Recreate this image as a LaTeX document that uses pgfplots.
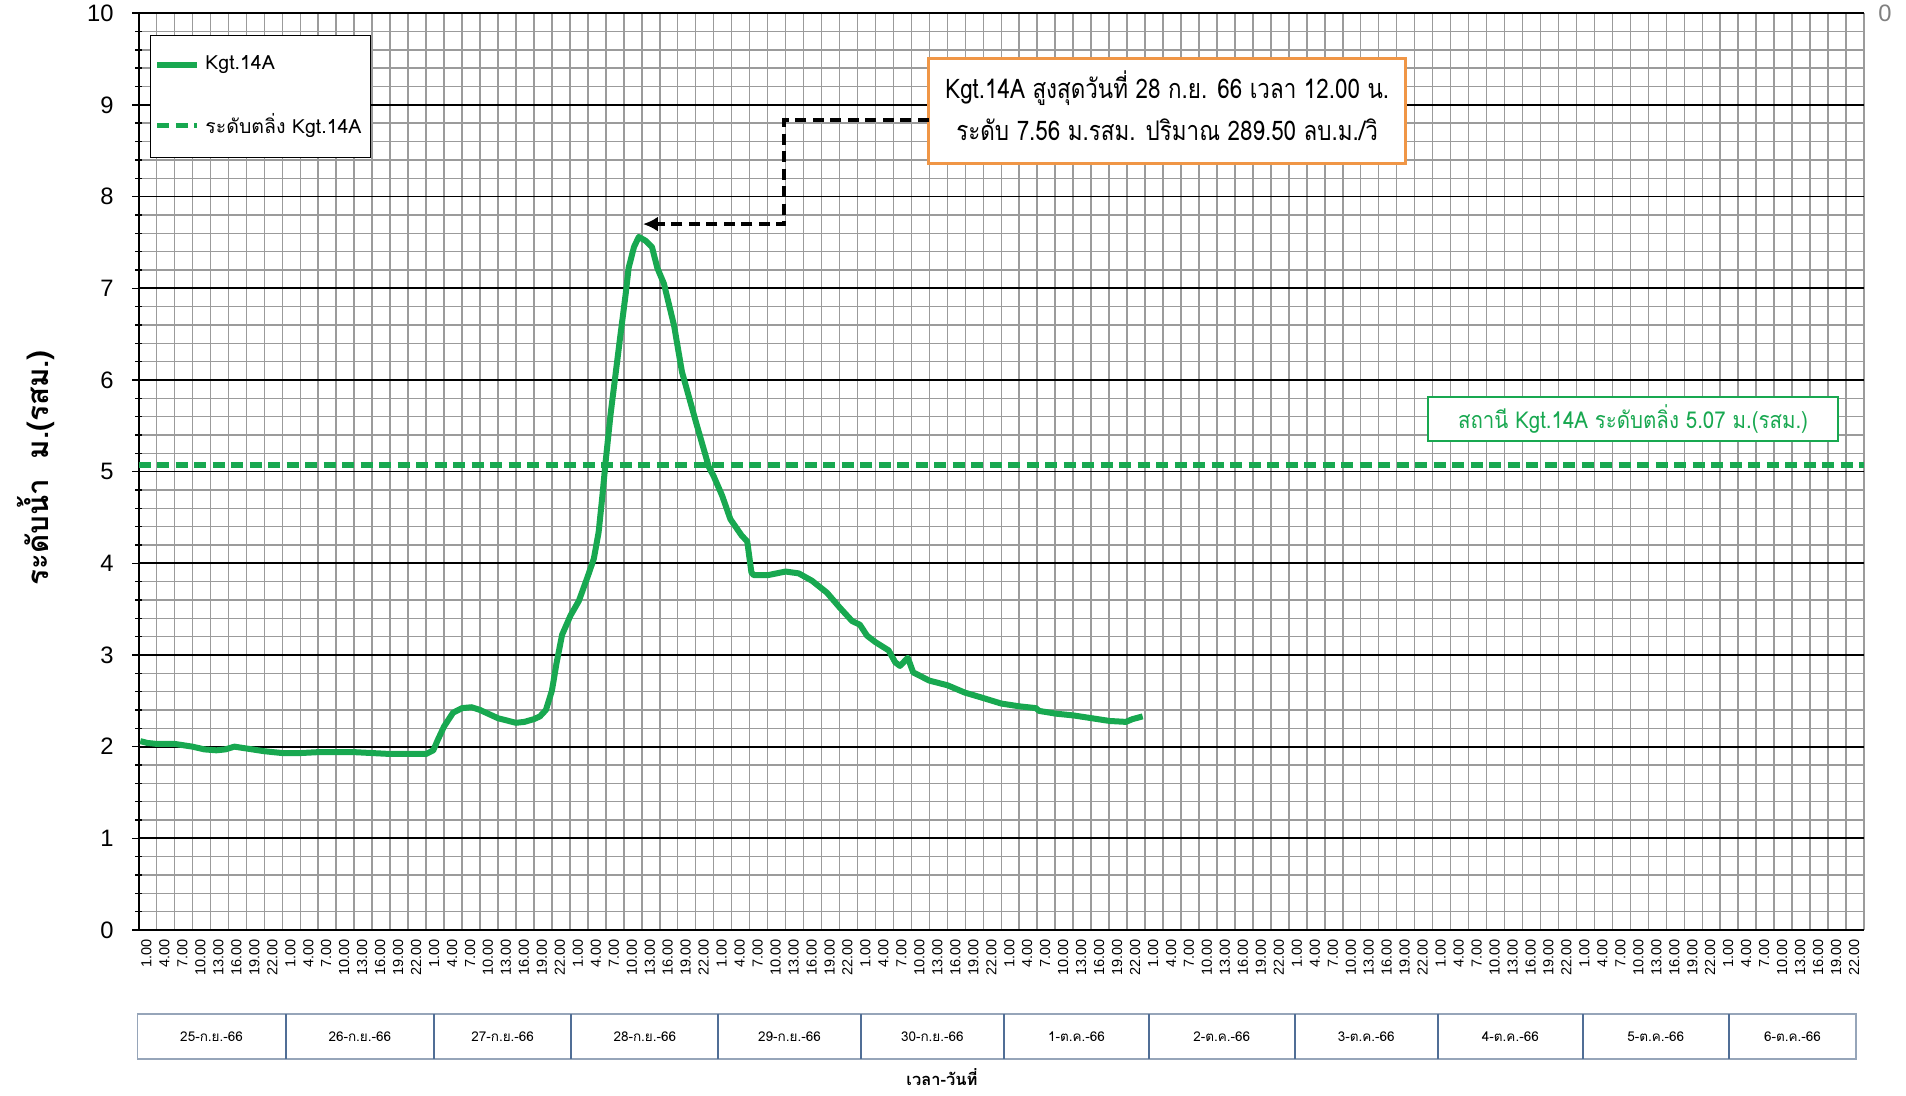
\documentclass[border=0pt]{standalone}
\usepackage{fontspec}
\setmainfont{Liberation Sans}
\newfontfamily\thai[Script=Thai]{Loma}
\usepackage{pgfplots}
\pgfplotsset{compat=1.18}
\usetikzlibrary{arrows.meta}
\definecolor{lgreen}{RGB}{24,168,80}
\definecolor{gridgray}{RGB}{155,155,155}
\definecolor{boxorange}{RGB}{240,150,70}
\definecolor{datebox}{RGB}{150,165,185}
\definecolor{datediv}{RGB}{80,110,150}
\begin{document}
\begin{tikzpicture}
\useasboundingbox (0,0) rectangle (762.4pt,438.4pt);
\begin{axis}[
  at={(55.4pt,66.4pt)}, anchor=south west,
  scale only axis, width=690.2pt, height=366.7pt,
  xmin=0, xmax=288, ymin=0, ymax=10,
  axis lines=left, axis line style={-, black, line width=0.8pt},
  ytick={0,1,...,10}, minor y tick num=4,
  ymajorgrids, yminorgrids,
  major grid style={black, line width=0.7pt},
  minor grid style={gridgray, line width=0.6pt},
  xtick={0.5,3.5,...,287.5},
  xticklabels={1.00,4.00,7.00,10.00,13.00,16.00,19.00,22.00,1.00,4.00,7.00,10.00,13.00,16.00,19.00,22.00,1.00,4.00,7.00,10.00,13.00,16.00,19.00,22.00,1.00,4.00,7.00,10.00,13.00,16.00,19.00,22.00,1.00,4.00,7.00,10.00,13.00,16.00,19.00,22.00,1.00,4.00,7.00,10.00,13.00,16.00,19.00,22.00,1.00,4.00,7.00,10.00,13.00,16.00,19.00,22.00,1.00,4.00,7.00,10.00,13.00,16.00,19.00,22.00,1.00,4.00,7.00,10.00,13.00,16.00,19.00,22.00,1.00,4.00,7.00,10.00,13.00,16.00,19.00,22.00,1.00,4.00,7.00,10.00,13.00,16.00,19.00,22.00,1.00,4.00,7.00,10.00,13.00,16.00,19.00,22.00},
  minor xtick={0,3,...,288}, xminorgrids,
  x tick style={draw=none},
  y tick style={black, line width=0.6pt},
  tick align=center, major tick length=4.8pt, minor tick length=2.8pt,
  xticklabel style={rotate=90, anchor=east, font=\fontsize{5.8}{6}\selectfont, inner sep=1pt, yshift=-2pt},
  yticklabel style={font=\fontsize{9.5}{10}\selectfont, xshift=-4pt},
  /pgf/number format/assume math mode=true,
  legend style={at={(0.0067,0.976)}, anchor=north west, draw=black, line width=0.5pt,
    font=\thai\fontsize{7.8}{9}\selectfont, inner xsep=1.5pt, inner ysep=6pt, row sep=12pt,
    cells={anchor=west}, /tikz/every even column/.append style={column sep=0pt}},
  legend image code/.code={\draw[#1] (0pt,0pt) -- (16pt,0pt);},
]
\addplot[lgreen, line width=2.4pt, line join=round] coordinates {
(0.3,2.06) (1.5,2.04) (3,2.03) (6,2.03) (9,2.00) (11,1.97) (13,1.96) (14.5,1.97) (16,2.00) (18,1.98)
(21,1.95) (24,1.93) (27,1.93) (30,1.94) (33,1.94) (36,1.94) (39,1.93) (42,1.92) (45,1.92) (48,1.92)
(49.2,1.96) (50,2.08) (51,2.22) (52.5,2.37) (54,2.42) (55.6,2.43) (57,2.40) (60,2.31) (63,2.26) (64.4,2.27)
(66,2.30) (67,2.33) (68,2.40) (69,2.61) (69.8,2.92) (70.7,3.22) (72.1,3.43) (73.5,3.59) (75,3.86) (76,4.05)
(76.8,4.34) (77.4,4.72) (78,5.13) (78.8,5.63) (79.6,6.05) (80.4,6.47) (81.3,6.93) (81.8,7.22) (82.7,7.45) (83.5,7.56)
(84.6,7.52) (85.7,7.45) (86.6,7.22) (87.7,7.05) (89.4,6.59) (90.7,6.09) (93,5.55) (95.2,5.05) (96,4.95) (97.4,4.74)
(98.8,4.48) (100.7,4.30) (101.6,4.24) (102.3,3.90) (102.7,3.87) (105,3.87) (108,3.91) (110.2,3.89) (112.4,3.81) (114.9,3.68)
(117,3.52) (119.1,3.37) (120.4,3.33) (121.6,3.21) (123,3.14) (125.2,3.05) (126.3,2.92) (127.1,2.88) (128.4,2.97) (129.3,2.81)
(132,2.72) (135,2.67) (137.9,2.59) (141,2.53) (144,2.47) (147,2.44) (149.8,2.42) (150.3,2.39) (153.1,2.36) (156.1,2.34)
(159.1,2.31) (162.1,2.28) (164.8,2.27) (165.9,2.30) (167.6,2.33)
};
\addlegendentry{Kgt.14A}
\addplot[lgreen, line width=2.2pt, dash pattern=on 4.8pt off 2.6pt] coordinates {(0,5.07) (288,5.07)};
\addlegendentry{ระดับตลิ่ง Kgt.14A}
\draw[boxorange, line width=1.3pt, fill=white] (axis cs:131.9,8.36) rectangle (axis cs:211.5,9.51);
\node[inner sep=0pt] at (axis cs:171.7,8.935)
  {\scalebox{0.83}[1]{\thai\fontsize{10.8}{17}\selectfont\begin{tabular}{@{}c@{}}Kgt.14A สูงสุดวันที่ 28 ก.ย. 66 เวลา 12.00 น.\\ระดับ 7.56 ม.รสม. ปริมาณ 289.50 ลบ.ม./วิ\end{tabular}}};
\draw[black, line width=1.6pt, dash pattern=on 4.4pt off 2.6pt, -{Latex[length=6pt,width=6pt]}]
  (axis cs:131.9,8.83) -- (axis cs:107.8,8.83) -- (axis cs:107.8,7.70) -- (axis cs:84.2,7.70);
\draw[lgreen, line width=0.8pt, fill=white] (axis cs:215.2,5.33) rectangle (axis cs:283.7,5.81);
\node[inner sep=0pt, text=lgreen] at (axis cs:249.45,5.57)
  {\scalebox{0.88}[1]{\thai\fontsize{9.3}{11}\selectfont สถานี Kgt.14A ระดับตลิ่ง 5.07 ม.(รสม.)}};
\end{axis}
\node[rotate=90, font=\thai\bfseries\fontsize{11.8}{13}\selectfont] at (14.4pt,251.2pt) {ระดับน้ำ\ \ ม.(รสม.)};
\node[font=\fontsize{9.5}{10}\selectfont, gray] at (754pt,433.2pt) {0};
\draw[datebox, line width=0.6pt] (54.96pt,14.7pt) rectangle (742.48pt,32.7pt);
\foreach \x in {114.28,173.6,228.52,287.36,344.24,401.64,459.48,517.84,575.2,633.08,691.44}
  \draw[datediv, line width=0.8pt] (\x pt,14.7pt) -- (\x pt,32.7pt);
\foreach \a/\b/\t in {54.96/114.28/25-ก.ย.-66, 114.28/173.6/26-ก.ย.-66, 173.6/228.52/27-ก.ย.-66,
  228.52/287.36/28-ก.ย.-66, 287.36/344.24/29-ก.ย.-66, 344.24/401.64/30-ก.ย.-66,
  401.64/459.48/1-ต.ค.-66, 459.48/517.84/2-ต.ค.-66, 517.84/575.2/3-ต.ค.-66,
  575.2/633.08/4-ต.ค.-66, 633.08/691.44/5-ต.ค.-66, 691.44/742.48/6-ต.ค.-66}
  \node[font=\thai\fontsize{5.4}{7}\selectfont] at ({(\a+\b)/2*1pt},23.6pt) {\t};
\node[font=\thai\bfseries\fontsize{6.6}{8}\selectfont] at (376.8pt,7.4pt) {เวลา-วันที่};
\end{tikzpicture}
\end{document}
